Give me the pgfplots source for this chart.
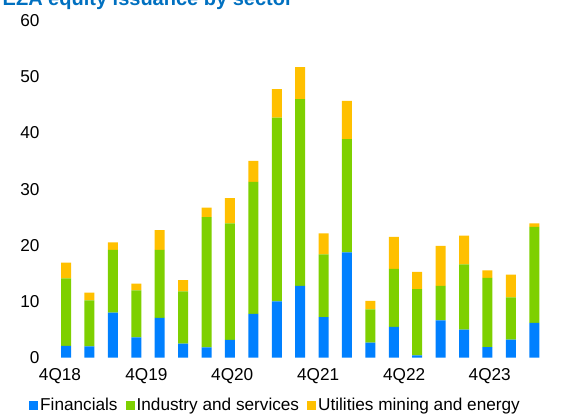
\documentclass[border=0pt]{standalone}
\usepackage{pgfplots}
\usepackage{pgfplotstable}
\usepackage{fontspec}
\setmainfont{Liberation Sans}
\pgfplotsset{compat=1.18}

\definecolor{finblue}{RGB}{0,128,255}
\definecolor{indgreen}{RGB}{126,208,0}
\definecolor{utilorange}{RGB}{255,192,0}
\definecolor{titleblue}{RGB}{0,112,192}

% quarters 4Q18 ... 4Q23, EUR bn
\pgfplotstableread{
i  fin   ind   util
0  2.1   12.0  2.8
1  2.0   8.2   1.4
2  8.0   11.2  1.3
3  3.6   8.4   1.2
4  7.1   12.1  3.5
5  2.5   9.3   2.0
6  1.85  23.15 1.7
7  3.15  20.75 4.5
8  7.8   23.5  3.7
9  10.0  32.7  5.1
10 12.8  33.2  5.7
11 7.2   11.2  3.7
12 18.75 20.15 6.8
13 2.7   5.9   1.5
14 5.5   10.3  5.7
15 0.4   11.8  3.05
16 6.65  6.15  7.1
17 5.0   11.6  5.1
18 1.9   12.3  1.35
19 3.2   7.55  4.05
20 6.2   17.1  0.6
}\issuance

\begin{document}
\begin{tikzpicture}
\begin{axis}[
    at={(0,0)}, anchor=south west,
    scale only axis,
    width=515pt, height=337.2pt,
    ybar stacked, bar width=10pt,
    xmin=-0.9, xmax=21.1,
    ymin=0, ymax=60,
    ytick={0,10,...,60},
    xtick={-0.26,3.43,7.1,10.77,14.44,18.1},
    xticklabels={4Q18,4Q19,4Q20,4Q21,4Q22,4Q23},
    axis line style={draw=none},
    major tick length=0pt,
    tick label style={font=\fontsize{17.2}{20}\selectfont},
    yticklabel style={xshift=-2pt},
    xticklabel style={yshift=-7pt},
    /pgf/number format/assume math mode=true,
    legend columns=3,
    legend style={draw=none, fill=none, at={(axis description cs:0.4476,-0.1403)},
        anchor=center, font=\fontsize{17.2}{20}\selectfont,
        /tikz/every even column/.append style={column sep=6pt}},
    legend image code/.code={\fill[#1] (0pt,-4.5pt) rectangle (9pt,4.5pt);},
]
\addplot[fill=finblue, draw=none] table[x=i, y=fin] {\issuance};
\addlegendentry{Financials}
\addplot[fill=indgreen, draw=none] table[x=i, y=ind] {\issuance};
\addlegendentry{Industry and services}
\addplot[fill=utilorange, draw=none] table[x=i, y=util] {\issuance};
\addlegendentry{Utilities mining and energy}
\end{axis}
\node[anchor=base east, inner sep=0, text=titleblue,
      font=\bfseries\fontsize{20}{24}\selectfont] at (248pt,351.7pt)
      {EZA equity issuance by sector};
\pgfresetboundingbox
\useasboundingbox (-45pt,-57.3pt) rectangle (526pt,357.7pt);
\end{tikzpicture}
\end{document}
